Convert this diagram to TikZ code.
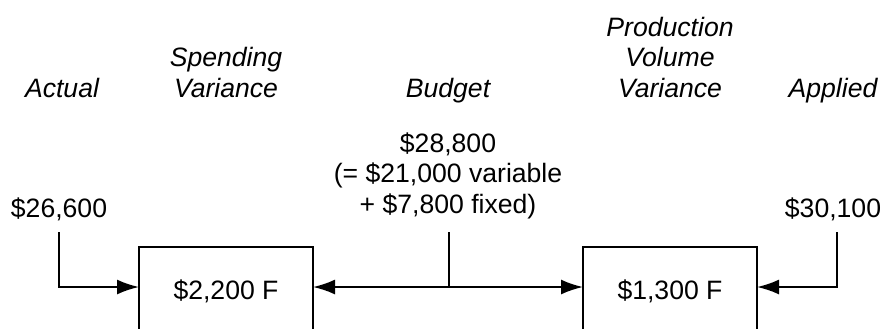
\documentclass[tikz,border=0pt]{standalone}
\usepackage{fontspec}
\setmainfont{Liberation Sans}
\usetikzlibrary{arrows.meta}
\begin{document}
\begin{tikzpicture}[x=0.5pt,y=-0.5pt,
  lbl/.style={inner sep=0pt,anchor=base,align=center,font=\fontsize{13.3pt}{15.25pt}\selectfont},
  hdr/.style={lbl,font=\fontsize{13.3pt}{15.25pt}\selectfont\itshape},
  vbox/.style={draw,line width=1pt,minimum width=87pt,minimum height=60pt,anchor=north,inner sep=0pt,outer sep=0pt},
  conn/.style={line width=1pt},
  arr/.style={conn,-{Latex[length=11pt,width=7.5pt]}}]
\useasboundingbox (0,0) rectangle (886,328);
\clip (0,0) rectangle (886,328);
% headers (base = baseline of last line)
\node[hdr] (hact) at (62,97) {Actual};
\node[hdr] (hspv) at (226,97) {Spending\\Variance};
\node[hdr] (hbud) at (448,97) {Budget};
\node[hdr] (hpvv) at (670,97) {Production\\Volume\\Variance};
\node[hdr] (happ) at (833,97) {Applied};
% amounts
\node[lbl] (vact) at (59,217) {\$26,600};
\node[lbl] (vbud) at (448,213) {\$28,800\\(= \$21,000 variable\\+ \$7,800 fixed)};
\node[lbl] (vapp) at (833,217) {\$30,100};
% boxes
\node[vbox] (b1) at (226,247) {};
\node[vbox] (b2) at (670,247) {};
\node[lbl] (t1) at (226,299) {\$2,200 F};
\node[lbl] (t2) at (670,299) {\$1,300 F};
\coordinate (row) at (0,287);
% connectors
\coordinate (a1) at (59,232);
\coordinate (m1) at (449,232);
\coordinate (r1) at (837,232);
\coordinate (mj) at (449,287);
\draw[arr] (a1) |- (b1.west |- row);
\draw[conn] (m1) -- (mj);
\draw[arr] (mj) -- (b1.east |- row);
\draw[arr] (mj) -- (b2.west |- row);
\draw[arr] (r1) |- (b2.east |- row);
\end{tikzpicture}
\end{document}
